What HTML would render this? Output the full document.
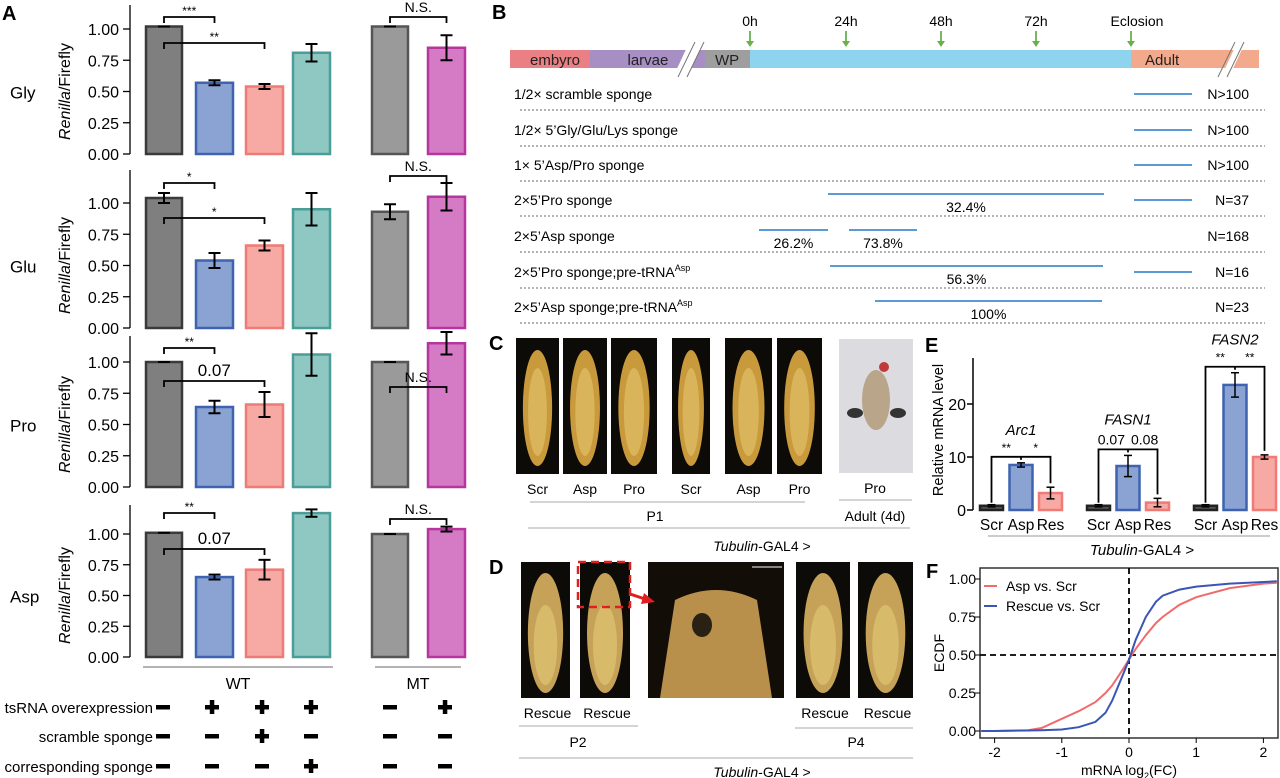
<!DOCTYPE html>
<html><head><meta charset="utf-8">
<style>
html,body{margin:0;padding:0;background:#fff;}
svg{display:block;font-family:"Liberation Sans",Arial,sans-serif;}
</style></head>
<body>
<svg id="fig" width="1280" height="778" viewBox="0 0 1280 778" xmlns="http://www.w3.org/2000/svg">
<g id="panelA"></g>
<g id="panelB"></g>
<g id="panelCD"></g>
<g id="panelE"></g>
<g id="panelF"></g>
</svg>
<script>
// ===== Panel A data =====
const aRows = ["Gly","Glu","Pro","Asp"];
const aTicks = [0,0.25,0.5,0.75,1.0];
const aTickLabels = ["0.00","0.25","0.50","0.75","1.00"];
const glyVals = [1.02,0.57,0.54,0.81,1.02,0.85];
const glyErr  = [0,0.02,0.02,0.07,0,0.1];
const gluVals = [1.04,0.54,0.66,0.95,0.93,1.05];
const gluErr  = [0.04,0.06,0.04,0.13,0.06,0.11];
const proVals = [1.0,0.64,0.66,1.06,1.0,1.15];
const proErr  = [0,0.05,0.1,0.17,0,0.09];
const aspVals = [1.01,0.65,0.71,1.17,1.0,1.04];
const aspErr  = [0,0.02,0.08,0.03,0,0.02];
const tsRNA = ["-","+","+","+","-","+"];
const scramble = ["-","-","+","-","-","-"];
const corresponding = ["-","-","-","+","-","-"];
// ===== Panel E data =====
const eGenes = ["Arc1","FASN1","FASN2"];
const eCats = ["Scr","Asp","Res"];
const arc1Vals = [0.8,8.5,3.2], arc1Err=[0.2,0.4,1.1];
const fasn1Vals = [0.8,8.3,1.4], fasn1Err=[0.2,2.0,0.8];
const fasn2Vals = [0.8,23.6,10.0], fasn2Err=[0.2,2.3,0.4];
const eTicks = [0,10,20];
// ===== Panel F data =====
const fX = [-2.2,-2,-1.5,-1.3,-1,-0.75,-0.5,-0.35,-0.25,-0.1,0,0.1,0.25,0.4,0.5,0.75,1,1.5,2,2.2];
const aspEcdf = [0,0,0.005,0.02,0.08,0.13,0.19,0.25,0.3,0.4,0.47,0.54,0.63,0.71,0.75,0.83,0.88,0.94,0.97,0.975];
const rescueEcdf = [0,0,0.003,0.005,0.01,0.025,0.06,0.12,0.2,0.36,0.47,0.6,0.75,0.85,0.89,0.93,0.95,0.97,0.98,0.985];
const fTicksX = [-2,-1,0,1,2];
const fTicksY = [0,0.25,0.5,0.75,1.0];
const fTickYLabels = ["0.00","0.25","0.50","0.75","1.00"];

const NS="http://www.w3.org/2000/svg";
function el(parent,tag,attrs,text){
  const e=document.createElementNS(NS,tag);
  for(const k in attrs) e.setAttribute(k,attrs[k]);
  if(text!==undefined) e.textContent=text;
  parent.appendChild(e); return e;
}
// ---------- Panel A ----------
const A=document.getElementById('panelA');
let t=el(A,'text',{x:2,y:20,'font-size':20,'font-weight':'bold'},'A');


const rowGeom=[{y0:154,y1:29,top:5},{y0:328,y1:203,top:170},{y0:487,y1:362,top:336},{y0:657,y1:534,top:505}];
const rowData=[[glyVals,glyErr],[gluVals,gluErr],[proVals,proErr],[aspVals,aspErr]];
const barX=[146,196,246,293,372,428], barW=[36,37,37,37,36,37];
const fills=["#7f7f7f","#8ba3d3","#f7aaa3","#8fc7c3","#9a9a9a","#d57bc6"];
const strokes=["#3a3a3a","#3f63b0","#ef7a76","#4a9e97","#555","#b5379e"];
const sigs=[
 [{a:0,b:1,y:17,t:"***"},{a:0,b:2,y:43,t:"**"},{a:4,b:5,y:17,t:"N.S."}],
 [{a:0,b:1,y:183,t:"*"},{a:0,b:2,y:218,t:"*"},{a:4,b:5,y:176,t:"N.S."}],
 [{a:0,b:1,y:348,t:"**"},{a:0,b:2,y:381,t:"0.07"},{a:4,b:5,y:387,t:"N.S."}],
 [{a:0,b:1,y:513,t:"**"},{a:0,b:2,y:549,t:"0.07"},{a:4,b:5,y:519,t:"N.S."}]
];
aRows.forEach((name,r)=>{
  const g=rowGeom[r], vals=rowData[r][0], errs=rowData[r][1];
  const sy=v=>g.y0-(g.y0-g.y1)*v;
  const rg=el(A,'g',{});
  
  
  let lab=el(rg,'text',{x:10,y:sy(0.5)+7,'font-size':17},name);
  
  
  let yt=el(rg,'text',{transform:`translate(70,${sy(0.5)}) rotate(-90)`,'text-anchor':'middle','font-size':16});
  
  
  el(yt,'tspan',{'font-style':'italic'},'Renilla');
  el(yt,'tspan',{},'/Firefly');
  el(rg,'line',{x1:130,x2:130,y1:g.top,y2:g.y0,stroke:'#000','stroke-width':1.3});
  aTicks.forEach((v,i)=>{
    el(rg,'line',{x1:123,x2:130,y1:sy(v),y2:sy(v),stroke:'#000','stroke-width':1.3});
    let tl=el(rg,'text',{x:119,y:sy(v)+6,'text-anchor':'end','font-size':16},aTickLabels[i]);
    
    
  });
  vals.forEach((v,i)=>{
    const b=el(rg,'rect',{x:barX[i],y:sy(v),width:barW[i],height:sy(0)-sy(v),fill:fills[i],stroke:strokes[i],'stroke-width':2.5});
    
    
    const cx=barX[i]+barW[i]/2, e=errs[i];
    if(e>0){
      el(rg,'line',{x1:cx,x2:cx,y1:sy(v+e),y2:sy(v-e),stroke:'#000','stroke-width':2});
      el(rg,'line',{x1:cx-6,x2:cx+6,y1:sy(v+e),y2:sy(v+e),stroke:'#000','stroke-width':2});
      el(rg,'line',{x1:cx-6,x2:cx+6,y1:sy(v-e),y2:sy(v-e),stroke:'#000','stroke-width':2});
    } else {
      el(rg,'line',{x1:cx-6,x2:cx+6,y1:sy(v),y2:sy(v),stroke:'#000','stroke-width':2});
    }
  });
  sigs[r].forEach(s=>{
    const xa=barX[s.a]+barW[s.a]/2, xb=barX[s.b]+barW[s.b]/2;
    el(rg,'path',{d:`M${xa},${s.y+6}V${s.y}H${xb}V${s.y+6}`,fill:'none',stroke:'#000','stroke-width':1.8});
    const fs=s.t.includes('*')?12:(s.t==="N.S."?14:17);
    let st=el(rg,'text',{x:(xa+xb)/2,y:s.y-(s.t.includes('*')?2:5),'text-anchor':'middle','font-size':fs},s.t);
    
    
  });
});
el(A,'line',{x1:143,x2:333,y1:667,y2:667,stroke:'#888','stroke-width':1.2});
el(A,'line',{x1:375,x2:461,y1:667,y2:667,stroke:'#888','stroke-width':1.2});
t=el(A,'text',{x:238,y:689,'text-anchor':'middle','font-size':16},'WT');

t=el(A,'text',{x:418,y:689,'text-anchor':'middle','font-size':16},'MT');

const condNames=["tsRNA overexpression","scramble sponge","corresponding sponge"];
const condRows=[tsRNA,scramble,corresponding];
const condY=[707,736,766];
const symX=[163,212,262,311,390,445];
condRows.forEach((row,ri)=>{
  let ct=el(A,'text',{x:153,y:condY[ri]+6,'text-anchor':'end','font-size':15},condNames[ri]);
  
  
  row.forEach((s,i)=>{
    const x=symX[i],y=condY[ri];
    el(A,'rect',{x:x-7,y:y-2,width:14,height:4.5,fill:'#000'});
    if(s==='+') el(A,'rect',{x:x-2.2,y:y-7,width:4.5,height:14,fill:'#000'});
  });
});

// ---------- Panel B ----------
const B=document.getElementById('panelB');
t=el(B,'text',{x:492,y:19,'font-size':20,'font-weight':'bold'},'B');

const segs=[[510,590,'#ea8083','embyro'],[590,705,'#a78fc4','larvae'],[705,750,'#9e9e9e','WP'],[750,1131,'#8fd4ef',''],[1131,1259,'#f3aa8c','Adult']];
segs.forEach(s=>{
  el(B,'rect',{x:s[0],y:50,width:s[1]-s[0],height:18,fill:s[2]});
  if(s[3]){let st=el(B,'text',{x:s[3]==='WP'?715:(s[3]==='Adult'?1145:(s[0]+(s[1]-s[0])/2-20)),y:65,'font-size':15,fill:'#222'},s[3]);
    }
});
el(B,'rect',{x:685,y:45,width:14,height:30,fill:'#fff',transform:'skewX(-25) translate(24,0)'});
el(B,'line',{x1:678,y1:77,x2:695,y2:42,stroke:'#777'});el(B,'line',{x1:687,y1:77,x2:704,y2:42,stroke:'#777'});
el(B,'rect',{x:1233,y:44,width:8,height:30,fill:'#fff',transform:'skewX(-25) translate(24,0)'});
el(B,'line',{x1:1218,y1:77,x2:1235,y2:42,stroke:'#777'});el(B,'line',{x1:1227,y1:77,x2:1244,y2:42,stroke:'#777'});
[["0h",750],["24h",846],["48h",941],["72h",1036],["Eclosion",1131]].forEach(m=>{
  let mt=el(B,'text',{x:m[1]-(m[0]==='Eclosion'?-6:0),y:26,'text-anchor':'middle','font-size':14},m[0]);
  
  el(B,'line',{x1:m[1],x2:m[1],y1:31,y2:44,stroke:'#6ab04c','stroke-width':1.8});
  el(B,'path',{d:`M${m[1]-4},41L${m[1]},47L${m[1]+4},41Z`,fill:'#6ab04c'});
});
const bRows=[["1/2× scramble sponge","N>100"],["1/2× 5’Gly/Glu/Lys sponge","N>100"],["1× 5’Asp/Pro sponge","N>100"],["2×5’Pro sponge","N=37"],["2×5’Asp sponge","N=168"],["2×5’Pro sponge;pre-tRNA","N=16"],["2×5’Asp sponge;pre-tRNA","N=23"]];
const bY=[94,130,165,200,236,272,307];
const bLines=[[[1134,1192]],[[1134,1192]],[[1134,1192]],[[828,1104,'32.4%'],[1134,1192]],[[759,828,'26.2%'],[849,917,'73.8%']],[[830,1103,'56.3%'],[1134,1192]],[[875,1102,'100%']]];
bRows.forEach((r,i)=>{
  let rt=el(B,'text',{x:514,y:bY[i]+5,'font-size':14},r[0]);
  
  if(i>=5) el(rt,'tspan',{'font-size':9,dy:-6},'Asp');
  let nt=el(B,'text',{x:1249,y:bY[i]+5,'text-anchor':'end','font-size':14},r[1]);
  
  el(B,'line',{x1:520,x2:1265,y1:bY[i]+16,y2:bY[i]+16,stroke:'#666','stroke-dasharray':'2,2'});
  bLines[i].forEach(l=>{
    const ly=bY[i]-(l[2]?6:0);
    el(B,'line',{x1:l[0],x2:l[1],y1:ly,y2:ly,stroke:'#5b9bd5','stroke-width':2});
    if(l[2]){let pt=el(B,'text',{x:(l[0]+l[1])/2,y:ly+18,'text-anchor':'middle','font-size':14},l[2]);
      }
  });
});

// ---------- Panels C & D ----------
const C=document.getElementById('panelCD');
t=el(C,'text',{x:489,y:350,'font-size':20,'font-weight':'bold'},'C');

t=el(C,'text',{x:489,y:574,'font-size':20,'font-weight':'bold'},'D');

const cPhotos=[[516,559,'Scr'],[563,607,'Asp'],[611,657,'Pro'],[672,710,'Scr'],[725,772,'Asp'],[777,822,'Pro']];
cPhotos.forEach(p=>{
  const w=p[1]-p[0];
  let r=el(C,'rect',{x:p[0],y:338,width:w,height:136,fill:'#0c0b08'});
  
  el(C,'ellipse',{cx:p[0]+w/2,cy:408,rx:w*0.34,ry:58,fill:'#c99a3c'});
  el(C,'ellipse',{cx:p[0]+w/2,cy:412,rx:w*0.22,ry:44,fill:'#d9b45a'});
  let lt=el(C,'text',{x:p[0]+w/2,y:494,'text-anchor':'middle','font-size':14},p[2]);
  
});
let ad=el(C,'rect',{x:839,y:339,width:74,height:134,fill:'#dcdce0'});

el(C,'ellipse',{cx:876,cy:400,rx:14,ry:30,fill:'#b9a58a'});
el(C,'ellipse',{cx:855,cy:413,rx:8,ry:5,fill:'#333'});
el(C,'ellipse',{cx:898,cy:413,rx:8,ry:5,fill:'#333'});
el(C,'circle',{cx:884,cy:367,r:5,fill:'#c0393b'});
[["Pro",875,493],["Adult (4d)",875,521],["P1",655,521]].forEach(l=>{
  let x=el(C,'text',{x:l[1],y:l[2],'text-anchor':'middle','font-size':14},l[0]);
  
});
el(C,'line',{x1:530,x2:805,y1:502,y2:502,stroke:'#aaa'});
el(C,'line',{x1:839,x2:912,y1:500,y2:500,stroke:'#aaa'});
el(C,'line',{x1:528,x2:910,y1:528,y2:528,stroke:'#aaa'});
function tubulin(y){let tt=el(C,'text',{x:762,y:y,'text-anchor':'middle','font-size':14});
 
 el(tt,'tspan',{'font-style':'italic'},'Tubulin');el(tt,'tspan',{},'-GAL4 >');}
tubulin(551); tubulin(777);
const dPhotos=[[521,570],[580,630],[796,850],[858,913]];
dPhotos.forEach(p=>{
  const w=p[1]-p[0];
  let r=el(C,'rect',{x:p[0],y:562,width:w,height:136,fill:'#0c0b08'});
  
  el(C,'ellipse',{cx:p[0]+w/2,cy:633,rx:w*0.36,ry:60,fill:'#c6a158'});
  el(C,'ellipse',{cx:p[0]+w/2,cy:645,rx:w*0.24,ry:40,fill:'#d8bb6a'});
  let lt=el(C,'text',{x:p[0]+w/2+2,y:718,'text-anchor':'middle','font-size':14},'Rescue');
  
});
let zm=el(C,'rect',{x:648,y:562,width:136,height:136,fill:'#120d06'});

el(C,'path',{d:'M660,698 L675,600 Q716,580 757,600 L772,698Z',fill:'#b98f4c'});
el(C,'ellipse',{cx:702,cy:625,rx:10,ry:12,fill:'#2a2115'});
el(C,'line',{x1:752,x2:782,y1:567,y2:567,stroke:'#fff','stroke-width':1});
el(C,'rect',{x:578,y:562,width:52,height:45,fill:'none',stroke:'#e02020','stroke-width':2.5,'stroke-dasharray':'8,5'});
el(C,'line',{x1:630,x2:648,y1:594,y2:600,stroke:'#e02020','stroke-width':3});
el(C,'path',{d:'M655,602 L644,593 L641,604Z',fill:'#e02020'});
el(C,'line',{x1:519,x2:638,y1:726,y2:726,stroke:'#aaa'});
el(C,'line',{x1:795,x2:913,y1:728,y2:728,stroke:'#aaa'});
el(C,'line',{x1:519,x2:913,y1:758,y2:758,stroke:'#aaa'});
[["P2",578,747],["P4",856,747]].forEach(l=>{let x=el(C,'text',{x:l[1],y:l[2],'text-anchor':'middle','font-size':14},l[0]);
 });

// ---------- Panel E ----------
const E=document.getElementById('panelE');
t=el(E,'text',{x:925,y:352,'font-size':20,'font-weight':'bold'},'E');

const ey0=510, eyPer=5.3;
const ey=v=>ey0-v*eyPer;
el(E,'line',{x1:973,x2:973,y1:358,y2:ey0,stroke:'#000','stroke-width':1.5});
eTicks.forEach(v=>{
  el(E,'line',{x1:967,x2:973,y1:ey(v),y2:ey(v),stroke:'#000','stroke-width':1.5});
  let tl=el(E,'text',{x:966,y:ey(v)+6,'text-anchor':'end','font-size':16},String(v));
  
});
t=el(E,'text',{transform:'translate(943,430) rotate(-90)','text-anchor':'middle','font-size':14.5},'Relative mRNA level');

const eData=[[arc1Vals,arc1Err],[fasn1Vals,fasn1Err],[fasn2Vals,fasn2Err]];
const eGroupX=[980,1087,1194], eBw=23, eStep=29.5;
const eFill=["#555","#8ba3d3","#f7aaa3"], eStroke=["#222","#3f63b0","#ef7a76"];
const eSig=[["**","*"],["0.07","0.08"],["**","**"]];
eData.forEach((d,g)=>{
  let top=0;
  d[0].forEach((v,i)=>{
    const x=eGroupX[g]+i*eStep;
    let b=el(E,'rect',{x:x,y:ey(v),width:eBw,height:ey0-ey(v),fill:eFill[i],stroke:eStroke[i],'stroke-width':2.5});
    
    
    const cx=x+eBw/2,e=d[1][i];
    el(E,'line',{x1:cx,x2:cx,y1:ey(v+e),y2:ey(v-e),stroke:'#000','stroke-width':1.5});
    el(E,'line',{x1:cx-4,x2:cx+4,y1:ey(v+e),y2:ey(v+e),stroke:'#000','stroke-width':1.5});
    el(E,'line',{x1:cx-4,x2:cx+4,y1:ey(v-e),y2:ey(v-e),stroke:'#000','stroke-width':1.5});
    top=Math.max(top,v+e);
    let xl=el(E,'text',{x:cx,y:530,'text-anchor':'middle','font-size':15.5},eCats[i]);
    
  });
  const by=ey(top)-6, x0=eGroupX[g]+eBw/2, x1=x0+eStep, x2=x0+2*eStep;
  el(E,'path',{d:`M${x0},${ey(d[0][0])-3}V${by}H${x2}V${ey(d[0][2]+d[1][2])-4}`,fill:'none',stroke:'#000','stroke-width':1.8});
  el(E,'line',{x1:x1,x2:x1,y1:by,y2:by+3,stroke:'#000','stroke-width':1.8});
  const isNum=eSig[g][0].includes('.');
  let s1=el(E,'text',{x:isNum?x1-3:(x0+x1)/2,y:by-5,'text-anchor':isNum?'end':'middle','font-size':isNum?14:12},eSig[g][0]);
  
  let s2=el(E,'text',{x:isNum?x1+3:(x1+x2)/2,y:by-5,'text-anchor':isNum?'start':'middle','font-size':isNum?14:12},eSig[g][1]);
  
  let gt=el(E,'text',{x:x1,y:by-(isNum?25:22),'text-anchor':'middle','font-size':15,'font-style':'italic'},eGenes[g]);
  
});
el(E,'line',{x1:988,x2:1270,y1:536,y2:536,stroke:'#999'});
t=el(E,'text',{x:1142,y:555,'text-anchor':'middle','font-size':15});

el(t,'tspan',{'font-style':'italic'},'Tubulin');el(t,'tspan',{},'-GAL4 >');

// ---------- Panel F ----------
const F=document.getElementById('panelF');
t=el(F,'text',{x:926,y:578,'font-size':20,'font-weight':'bold'},'F');

const fx=v=>1129+v*67.2, fy=v=>731-v*152;
el(F,'rect',{x:980,y:568,width:298,height:170,fill:'none',stroke:'#333','stroke-width':1.5});
fTicksY.forEach((v,i)=>{
  el(F,'line',{x1:975,x2:980,y1:fy(v),y2:fy(v),stroke:'#000'});
  let tl=el(F,'text',{x:976,y:fy(v)+5,'text-anchor':'end','font-size':14},fTickYLabels[i]);
  
});
fTicksX.forEach(v=>{
  el(F,'line',{x1:fx(v),x2:fx(v),y1:738,y2:743,stroke:'#000'});
  let tl=el(F,'text',{x:fx(v),y:757,'text-anchor':'middle','font-size':14},String(v));
  
});
t=el(F,'text',{x:1129,y:775,'text-anchor':'middle','font-size':14},'mRNA log');

el(t,'tspan',{'font-size':9,dy:4},'2');el(t,'tspan',{dy:-4},'(FC)');
t=el(F,'text',{transform:'translate(944,653) rotate(-90)','text-anchor':'middle','font-size':14},'ECDF');

el(F,'line',{x1:980,x2:1278,y1:fy(0.5),y2:fy(0.5),stroke:'#000','stroke-width':1.8,'stroke-dasharray':'6,4'});
el(F,'line',{x1:fx(0),x2:fx(0),y1:568,y2:738,stroke:'#000','stroke-width':1.8,'stroke-dasharray':'6,4'});
function curve(vals,color,name){
  const d=fX.map((x,i)=>(i?'L':'M')+Math.max(980,Math.min(1278,fx(x))).toFixed(1)+','+fy(vals[i]).toFixed(1)).join('');
  const p=el(F,'path',{d:d,fill:'none',stroke:color,'stroke-width':2});
  
}
curve(aspEcdf,'#f06b6b','asp-vs-scr-curve');
curve(rescueEcdf,'#3a55b5','rescue-vs-scr-curve');
el(F,'line',{x1:984,x2:997,y1:586,y2:586,stroke:'#f06b6b','stroke-width':2});
el(F,'line',{x1:984,x2:997,y1:606,y2:606,stroke:'#3a55b5','stroke-width':2});
t=el(F,'text',{x:1006,y:591,'font-size':14},'Asp vs. Scr');

t=el(F,'text',{x:1006,y:611,'font-size':14},'Rescue vs. Scr');

</script>
</body></html>
